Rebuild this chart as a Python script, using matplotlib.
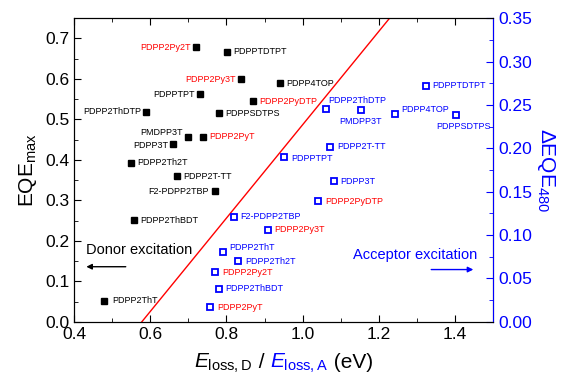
import matplotlib
matplotlib.use("Agg")
import matplotlib.pyplot as plt
from matplotlib.ticker import MultipleLocator
from matplotlib.offsetbox import TextArea, HPacker, AnchoredOffsetbox

plt.rcParams['font.family'] = ['Liberation Sans', 'DejaVu Sans']
plt.rcParams['mathtext.fontset'] = 'custom'
plt.rcParams['mathtext.rm'] = 'Liberation Sans'
plt.rcParams['mathtext.it'] = 'Liberation Sans:italic'

# donor excitation: E_loss,D vs EQE_max (left axis)
donor_names = ['PDPP2Py2T', 'PDPPTDTPT', 'PDPP2Py3T', 'PDPP4TOP', 'PDPPTPT',
               'PDPP2PyDTP', 'PDPP2ThDTP', 'PDPPSDTPS', 'PMDPP3T', 'PDPP2PyT',
               'PDPP3T', 'PDPP2Th2T', 'PDPP2T-TT', 'F2-PDPP2TBP', 'PDPP2ThBDT',
               'PDPP2ThT']
donor_eloss = [0.719, 0.801, 0.838, 0.941, 0.731, 0.869, 0.589, 0.781, 0.700,
               0.738, 0.661, 0.550, 0.670, 0.770, 0.557, 0.479]
donor_eqe = [0.678, 0.667, 0.599, 0.589, 0.562, 0.545, 0.519, 0.515, 0.457,
             0.457, 0.440, 0.393, 0.360, 0.323, 0.251, 0.052]

# acceptor excitation: E_loss,A vs delta EQE_480 (right axis)
acc_names = ['PDPPTDTPT', 'PDPP2ThDTP', 'PMDPP3T', 'PDPP4TOP', 'PDPPSDTPS',
             'PDPP2T-TT', 'PDPPTPT', 'PDPP3T', 'PDPP2PyDTP', 'F2-PDPP2TBP',
             'PDPP2Py3T', 'PDPP2ThT', 'PDPP2Th2T', 'PDPP2Py2T', 'PDPP2ThBDT',
             'PDPP2PyT']
acc_eloss = [1.323, 1.062, 1.152, 1.243, 1.403, 1.072, 0.951, 1.082, 1.041,
             0.820, 0.909, 0.790, 0.831, 0.769, 0.781, 0.758]
acc_deqe = [0.272, 0.245, 0.244, 0.240, 0.238, 0.201, 0.190, 0.162, 0.139,
            0.121, 0.106, 0.081, 0.070, 0.057, 0.038, 0.017]

# dividing line (eV, EQE_max)
line_x = [0.578, 1.228]
line_y = [0.0, 0.75]

BLUE = '#0000ff'
RED = '#ff0000'

# label placement in pixels: (dx, dy, ha); default to the right
donor_off = {
    'PDPP2Py2T': (-5, 0, 'right'), 'PDPP2Py3T': (-5, 0, 'right'),
    'PDPPTPT': (-5, 0, 'right'), 'PDPP2ThDTP': (-4.5, 0, 'right'),
    'PMDPP3T': (-5.5, 4.5, 'right'), 'PDPP3T': (-5.5, -1.5, 'right'),
    'F2-PDPP2TBP': (-6.5, 0, 'right'), 'PDPP2ThT': (8.5, 0, 'left'),
}
acc_off = {
    'PDPP2ThDTP': (2, 8.5, 'left'), 'PMDPP3T': (0, -11, 'center'),
    'PDPP4TOP': (5.5, 4.5, 'left'), 'PDPPSDTPS': (7, -11, 'center'),
    'PDPP2T-TT': (7.5, 0.5, 'left'), 'PDPPTPT': (7.5, -1.5, 'left'),
    'PDPP2ThT': (6.5, 4, 'left'), 'PDPP2Py2T': (7.5, 0, 'left'),
}

fig = plt.figure(figsize=(5.65, 3.79), dpi=100)
ax = fig.add_axes([0.131, 0.151, 0.742, 0.801])
ax2 = ax.twinx()

ax.plot(line_x, line_y, color=RED, lw=1, zorder=1)

ax.plot(donor_eloss, donor_eqe, 's', color='black', ms=5, zorder=3)
ax2.plot(acc_eloss, acc_deqe, 's', mfc='white', mec=BLUE, mew=1.3, ms=4.5, zorder=3)

for n, x, y in zip(donor_names, donor_eloss, donor_eqe):
    dx, dy, ha = donor_off.get(n, (6.5, 0, 'left'))
    ax.annotate(n, (x, y), xytext=(dx, dy), textcoords='offset pixels',
                ha=ha, va='center', fontsize=6.5,
                color=RED if 'Py' in n else 'black')

for n, x, y in zip(acc_names, acc_eloss, acc_deqe):
    dx, dy, ha = acc_off.get(n, (6.5, 0, 'left'))
    ax2.annotate(n, (x, y), xytext=(dx, dy), textcoords='offset pixels',
                 ha=ha, va='center', fontsize=6.5,
                 color=RED if 'Py' in n else BLUE)

# excitation notes
ax.text(0.431, 0.177, 'Donor excitation', fontsize=10.5, va='center', ha='left')
ax.annotate('', xy=(0.425, 0.136), xytext=(0.543, 0.136),
            arrowprops=dict(arrowstyle='-|>', color='black', lw=1, mutation_scale=8))
ax.text(1.132, 0.165, 'Acceptor excitation', fontsize=10.5, va='center',
        ha='left', color=BLUE)
ax.annotate('', xy=(1.455, 0.129), xytext=(1.330, 0.129),
            arrowprops=dict(arrowstyle='-|>', color=BLUE, lw=1, mutation_scale=8))

ax.set_xlim(0.4, 1.5)
ax.set_ylim(0, 0.75)
ax2.set_ylim(0, 0.35)

ax.xaxis.set_major_locator(MultipleLocator(0.2))
ax.xaxis.set_minor_locator(MultipleLocator(0.1))
ax.yaxis.set_major_locator(MultipleLocator(0.1))
ax.yaxis.set_minor_locator(MultipleLocator(0.05))
ax2.yaxis.set_major_locator(MultipleLocator(0.05))
ax2.yaxis.set_minor_locator(MultipleLocator(0.025))
ax.xaxis.set_major_formatter(plt.FormatStrFormatter('%.1f'))
ax.yaxis.set_major_formatter(plt.FormatStrFormatter('%.1f'))
ax2.yaxis.set_major_formatter(plt.FormatStrFormatter('%.2f'))

ax.tick_params(which='both', direction='in', top=True, right=False, labelsize=12.5)
ax.tick_params(which='major', length=5)
ax.tick_params(which='minor', length=3)
ax2.tick_params(which='both', direction='in', colors=BLUE, labelsize=12.5)
ax2.tick_params(which='major', length=5)
ax2.tick_params(which='minor', length=3)
ax2.spines['right'].set_color(BLUE)

ax.set_ylabel(r'EQE$_{\mathrm{max}}$', fontsize=15, labelpad=4)
ax2.set_ylabel(r'$\Delta$EQE$_{\mathrm{480}}$', fontsize=15, color=BLUE,
               rotation=270, labelpad=18)

# two-colour x label
parts = [TextArea(r'$E_{\mathrm{loss,D}}$', textprops=dict(fontsize=15, color='black')),
         TextArea(' / ', textprops=dict(fontsize=15, color='black')),
         TextArea(r'$E_{\mathrm{loss,A}}$', textprops=dict(fontsize=15, color=BLUE)),
         TextArea(' (eV)', textprops=dict(fontsize=15, color='black'))]
box = HPacker(children=parts, align='baseline', pad=0, sep=0)
anchored = AnchoredOffsetbox(loc='upper center', child=box, pad=0, frameon=False,
                             bbox_to_anchor=(0.5, -0.1), bbox_transform=ax.transAxes,
                             borderpad=0)
ax.add_artist(anchored)

fig.savefig('out.png', dpi=100)
